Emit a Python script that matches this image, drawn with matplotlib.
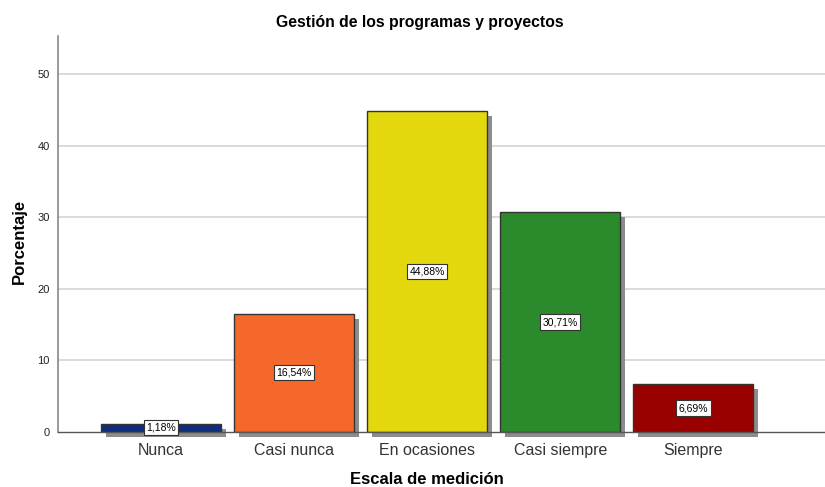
import matplotlib
matplotlib.use("Agg")
import matplotlib.pyplot as plt
from matplotlib.patches import Rectangle
import matplotlib.transforms as mtransforms

plt.rcParams["font.family"] = ["Liberation Sans", "DejaVu Sans"]

categories = ["Nunca", "Casi nunca", "En ocasiones", "Casi siempre", "Siempre"]
values = [1.18, 16.54, 44.88, 30.71, 6.69]
labels = ["1,18%", "16,54%", "44,88%", "30,71%", "6,69%"]
colors = ["#0f2d7c", "#f4692b", "#e3d80e", "#2b8a2b", "#990000"]
yticks = [0, 10, 20, 30, 40, 50]

fig = plt.figure(figsize=(8.25, 4.87), dpi=100)
ax = fig.add_axes([58/825, 55/487, (825-58)/825, (432-36)/487])

x = list(range(len(categories)))
width = 0.902
ax.set_xlim(-0.774, 4.99)
ax.set_ylim(0, 55.3)

for yt in yticks[1:]:
    ax.axhline(yt, color="#d4d4d4", lw=1.2, zorder=0)

shadow_tr = mtransforms.offset_copy(ax.transData, fig=fig, x=5, y=-5, units="dots")
for xi, v in zip(x, values):
    ax.add_patch(Rectangle((xi - width/2, 0), width, v, transform=shadow_tr,
                           facecolor="#8c8c8c", edgecolor="none", zorder=1, clip_on=False))

ax.bar(x, values, width=width, color=colors, edgecolor="#333333", linewidth=1.0, zorder=2)

for xi, v, lab in zip(x, values, labels):
    ax.text(xi, v/2, lab, ha="center", va="center", fontsize=7.5, color="black", zorder=4,
            bbox=dict(boxstyle="square,pad=0.25", facecolor="white", edgecolor="#333333", linewidth=0.8))

ax.set_xticks(x)
ax.set_xticklabels(categories, fontsize=11.5, color="#333333")
ax.set_yticks(yticks)
ax.set_yticklabels([str(t) for t in yticks], fontsize=8, color="#222222")
ax.tick_params(axis="x", length=0, pad=8)
ax.tick_params(axis="y", length=0, pad=6)

for s in ["top", "right"]:
    ax.spines[s].set_visible(False)
ax.spines["left"].set_color("#888888")
ax.spines["left"].set_linewidth(1.2)
ax.spines["bottom"].set_color("#555555")
ax.spines["bottom"].set_linewidth(1.0)
ax.spines["bottom"].set_zorder(3)

fig.text(420/825, 1 - 22/487, "Gestión de los programas y proyectos", ha="center", va="center",
         fontsize=11.3, fontweight="bold")
fig.text(19/825, 1 - 241/487, "Porcentaje", ha="center", va="center", rotation=90,
         fontsize=12, fontweight="bold")
fig.text(427/825, 1 - 479/487, "Escala de medición", ha="center", va="center",
         fontsize=12, fontweight="bold")

fig.savefig("out.png", dpi=100)
